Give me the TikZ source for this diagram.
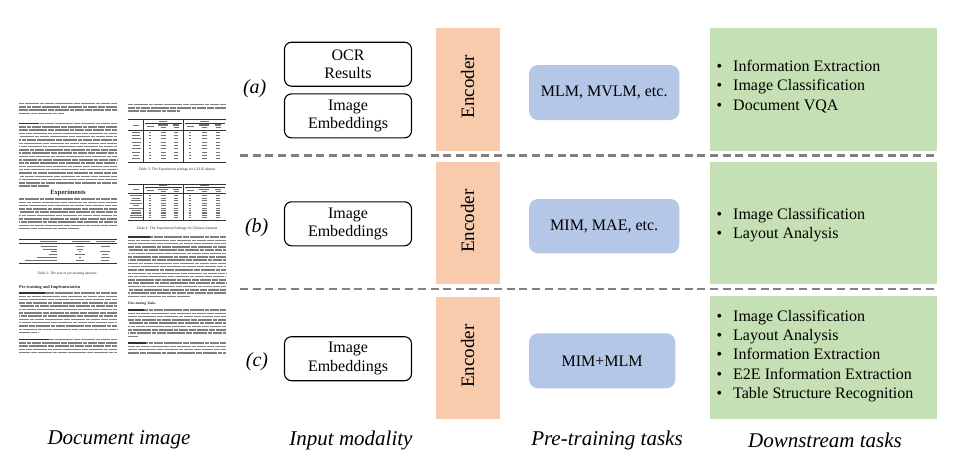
\documentclass[tikz,border=0pt]{standalone}
\usepackage{fontspec}
\setmainfont{Liberation Serif}
\definecolor{encfill}{HTML}{F8CBAD}
\definecolor{taskfill}{HTML}{B4C7E7}
\definecolor{downfill}{HTML}{C5E0B4}
\definecolor{dashgray}{HTML}{808080}
\tikzset{
  inbox/.style={draw=black, line width=1.1pt, rounded corners=7pt, minimum width=127pt, minimum height=44pt, align=center, inner sep=0pt, font=\fontsize{16}{18.5}\selectfont},
  taskbox/.style={fill=taskfill, rounded corners=9pt, minimum height=55pt, inner sep=0pt, font=\fontsize{16}{19}\selectfont},
  encbar/.style={fill=encfill, minimum width=64.3pt, inner sep=0pt},
  downbox/.style={fill=downfill, minimum width=227.3pt, inner sep=0pt},
  sepline/.style={draw=dashgray, line width=2.2pt, dash pattern=on 8pt off 4.7pt},
  rowlbl/.style={font=\fontsize{20}{22}\selectfont\itshape, inner sep=0pt},
  collbl/.style={font=\fontsize{21}{24}\selectfont\itshape, inner sep=0pt},
  enclbl/.style={rotate=90, inner sep=0pt, font=\fontsize{19}{21}\selectfont},
  item/.style={anchor=mid west, inner sep=0pt, font=\fontsize{16}{19}\selectfont},
  txt/.style={draw=black!50, line width=1.45pt, dash pattern=on 11pt off 0.9pt on 6pt off 0.9pt on 14pt off 0.9pt on 4pt off 0.9pt on 9pt off 0.9pt on 7pt off 0.9pt},
  txtb/.style={draw=black!80, line width=1.45pt},
  cell/.style={draw=black!55, line width=1.1pt},
  trule/.style={draw=black!80, line width=0.5pt},
  tinyhead/.style={inner sep=0pt, text=black!85},
}
\newcommand{\txtpara}[5]{%
  \foreach \i in {1,...,#3}{%
    \pgfmathsetmacro\myph{mod(\i*13,47)}%
    \draw[txt, dash phase=\myph pt] (#1,{#2+(\i-1)*3.3}) -- ++(98,0);}
  \draw[txt] (#1,{#2+#3*3.3}) -- ++(#4,0);
  \draw[txtb] (#1,#2) -- ++(#5,0);
}
\begin{document}
\begin{tikzpicture}[x=1pt,y=-1pt]
\useasboundingbox (0,0) rectangle (953,461);

% ---------------- document image ----------------
% left column
\txtpara{19}{103.5}{3}{45}{0}
\txtpara{19}{123.5}{19}{30}{20}
\node[tinyhead, font=\fontsize{6.5}{7}\selectfont\bfseries] (hExp) at (68,193) {Experiments};
\txtpara{19}{199}{9}{60}{0}
% table 2
\draw[trule] (19,239.5) -- (117,239.5);
\draw[cell] (40,241.6) -- ++(17,0) (72,241.6) -- ++(18,0) (96,241.6) -- ++(19,0);
\draw[trule] (19,243.6) -- (117,243.6);
\foreach \k/\wa/\wb/\wc in {0/16/8/9,1/14/6/0.01,2/6/1.5/10,3/8/10/6,4/20/1.5/9,5/32/8/8}{
  \draw[cell] ({57-\wa},{246.3+\k*2.8}) -- ++(\wa,0);
  \draw[cell] ({80-\wb/2},{246.3+\k*2.8}) -- ++(\wb,0);
  \draw[cell] ({105-\wc/2},{246.3+\k*2.8}) -- ++(\wc,0);
}
\draw[trule] (19,263.5) -- (117,263.5);
\node[tinyhead, font=\fontsize{3.6}{4}\selectfont] (cap2) at (67.5,274) {Table 2: The size of pre-training datasets.};
\node[tinyhead, anchor=west, font=\fontsize{4.3}{5}\selectfont\bfseries] (hPre) at (19,287) {Pre-training and Implementation};
\txtpara{19}{293}{12}{20}{26}
\txtpara{19}{339.5}{4}{98}{30}

% right column
\txtpara{128}{104.5}{2}{52}{0}
% table 3
\draw[trule] (128,119.5) -- (226,119.5);
\draw[trule] (143.7,119.5) -- (143.7,162.5) (183.5,119.5) -- (183.5,162.5);
\draw[cell] (159,121.4) -- ++(8,0) (200,121.4) -- ++(9,0);
\draw[trule] (145,123.2) -- (182,123.2) (185,123.2) -- (225,123.2);
\draw[cell] (133,125.5) -- ++(6,0);
\foreach \cx in {150,190}{\draw[cell] ({\cx-3.5},126.3) -- ++(7,0);}
\foreach \cx in {163,204}{\draw[cell] ({\cx-5},125) -- ++(10,0) ({\cx-2.5},127.6) -- ++(5,0);}
\foreach \cx in {176,218}{\draw[cell] ({\cx-3},125) -- ++(6,0) ({\cx-2.5},127.6) -- ++(5,0);}
\draw[trule] (128,129.8) -- (226,129.8);
\foreach \k/\wt in {0/8,1/8,2/9,3/9,4/7,5/9,6/8,7/6,8/8}{
  \draw[cell] ({136-\wt/2},{132.3+\k*3.3}) -- ++(\wt,0);
  \foreach \cx/\w in {150/1.6,163/5,176/4,190/1.6,204/5,218/4}{
    \draw[cell] ({\cx-\w/2},{132.3+\k*3.3}) -- ++(\w,0);}
}
\draw[trule] (128,162.5) -- (226,162.5);
\node[tinyhead, font=\fontsize{3.7}{4}\selectfont] (cap3) at (177,170) {Table 3: The Experiment settings for GLUE dataset};
% table 4
\draw[trule] (128,184) -- (226,184);
\draw[trule] (143.7,184) -- (143.7,220) (183.5,184) -- (183.5,220);
\draw[cell] (159,185.8) -- ++(8,0) (200,185.8) -- ++(9,0);
\draw[trule] (145,187.5) -- (182,187.5) (185,187.5) -- (225,187.5);
\draw[cell] (133,189.5) -- ++(6,0);
\foreach \cx in {150,190}{\draw[cell] ({\cx-3.5},190.4) -- ++(7,0);}
\foreach \cx in {163,204}{\draw[cell] ({\cx-5},189.3) -- ++(10,0) ({\cx-2.5},191.6) -- ++(5,0);}
\foreach \cx in {176,218}{\draw[cell] ({\cx-3},189.3) -- ++(6,0) ({\cx-2.5},191.6) -- ++(5,0);}
\draw[trule] (128,193.5) -- (226,193.5);
\foreach \k/\wt in {0/12,1/8,2/10,3/12,4/6,5/14,6/9,7/10,8/12,9/13}{
  \draw[cell] ({136-\wt/2},{195.8+\k*2.45}) -- ++(\wt,0);
  \foreach \cx/\w in {150/1.6,163/5,176/4,190/1.6,204/5,218/4}{
    \draw[cell] ({\cx-\w/2},{195.8+\k*2.45}) -- ++(\w,0);}
}
\draw[trule] (128,220) -- (226,220);
\node[tinyhead, font=\fontsize{3.7}{4}\selectfont] (cap4) at (177,229) {Table 4: The Experiment Settings for Chinese datasets};
\txtpara{128}{237}{18}{62}{22}
\node[tinyhead, anchor=west, font=\fontsize{3.6}{4}\selectfont\bfseries] (hFine) at (128,304) {Fine-tuning Tasks};
\txtpara{128}{310}{8}{10}{16}
\txtpara{128}{343}{3}{98}{18}

% ---------------- row labels ----------------
\node[rowlbl] (la) at (254.7,89) {(a)};
\node[rowlbl] (lb) at (256.7,227.3) {(b)};
\node[rowlbl] (lc) at (257,361.7) {(c)};

% ---------------- input modality ----------------
\node[inbox] (ocr) at (348,64.2) {OCR\\Results};
\node[inbox] (imgA) at (348,115.9) {Image\\Embeddings};
\node[inbox] (imgB) at (348,223.8) {Image\\Embeddings};
\node[inbox] (imgC) at (348,358.7) {Image\\Embeddings};

% ---------------- encoders ----------------
\node[encbar, minimum height=122.4pt] (encA) at (467.85,89.5) {};
\node[encbar, minimum height=122.3pt] (encB) at (467.85,222.85) {};
\node[encbar, minimum height=122.3pt] (encC) at (467.85,357.85) {};
\node[enclbl] (encAt) at (467.7,86.7) {Encoder};
\node[enclbl] (encBt) at (467.7,221.3) {Encoder};
\node[enclbl] (encCt) at (467.7,356) {Encoder};

% ---------------- pre-training tasks ----------------
\node[taskbox, minimum width=150.3pt] (ptA) at (604.2,92.5) {MLM, MVLM, etc.};
\node[taskbox, minimum width=150.3pt, minimum height=54.3pt] (ptB) at (604.2,226.2) {MIM, MAE, etc.};
\node[taskbox, minimum width=146.3pt] (ptC) at (602.2,360.8) {MIM+MLM};

% ---------------- downstream tasks ----------------
\node[downbox, minimum height=122.4pt] (dsA) at (823.65,89.5) {};
\node[downbox, minimum height=122pt] (dsB) at (823.65,223) {};
\node[downbox, minimum height=123pt] (dsC) at (823.65,357.5) {};

\node[item] (a1) at (716.5,69) {\makebox[16.5pt][l]{\textbullet}Information Extraction};
\node[item] (a2) at (716.5,88.6) {\makebox[16.5pt][l]{\textbullet}Image Classification};
\node[item] (a3) at (716.5,108.3) {\makebox[16.5pt][l]{\textbullet}Document VQA};

\node[item] (b1) at (716.5,217.3) {\makebox[16.5pt][l]{\textbullet}Image Classification};
\node[item] (b2) at (716.5,236.7) {\makebox[16.5pt][l]{\textbullet}Layout Analysis};

\node[item] (c1) at (716.5,319.3) {\makebox[16.5pt][l]{\textbullet}Image Classification};
\node[item] (c2) at (716.5,338.4) {\makebox[16.5pt][l]{\textbullet}Layout Analysis};
\node[item] (c3) at (716.5,357.6) {\makebox[16.5pt][l]{\textbullet}Information Extraction};
\node[item] (c4) at (716.5,376.8) {\makebox[16.5pt][l]{\textbullet}E2E Information Extraction};
\node[item] (c5) at (716.5,396) {\makebox[16.5pt][l]{\textbullet}Table Structure Recognition};

% ---------------- separators ----------------
\coordinate (s1l) at (240,155.5);
\coordinate (s1r) at (937,155.5);
\coordinate (s2l) at (240,289);
\coordinate (s2r) at (937,289);
\draw[sepline] (s1l) -- (s1r);
\draw[sepline] (s2l) -- (s2r);

% ---------------- column labels ----------------
\node[collbl] (cDoc) at (119,440) {Document image};
\node[collbl] (cIn) at (351,440) {Input modality};
\node[collbl] (cPre) at (607,440) {Pre-training tasks};
\node[collbl] (cDown) at (825,440) {Downstream tasks};
\end{tikzpicture}
\end{document}
